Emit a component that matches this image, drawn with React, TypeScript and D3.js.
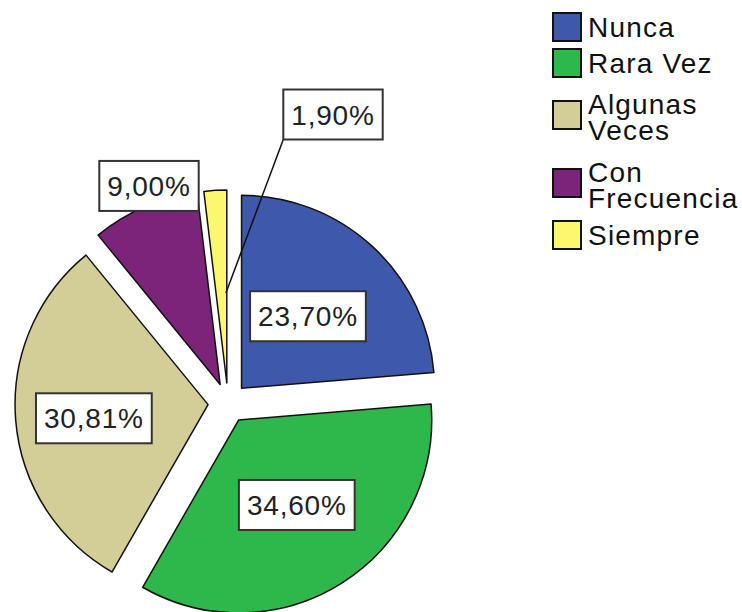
import React, { useEffect, useRef } from "react";
import * as d3 from "d3";

const categories = ["Nunca", "Rara Vez", "Algunas Veces", "Con Frecuencia", "Siempre"];
const percents = [23.7, 34.6, 30.81, 9.0, 1.9];
const colors = ["#3e58ac", "#2eb84b", "#d3ce97", "#7b2479", "#fbf76e"];

const W = 742;
const H = 612;
const cx = 228;
const cy = 403;
const R = 193;
const explode = 20;
const FONT = "'Liberation Sans', Arial, sans-serif";

// where the value boxes sit, polar around the pie centre (a in degrees, r in px)
const labelSpots: { r: number; a?: number; leader?: boolean }[] = [
  { r: 118 },
  { r: 123, a: 146 },
  { r: 135, a: 263.5 },
  { r: 231, a: 340 },
  { r: 307, a: 20, leader: true },
];

const fmt = (v: number) => d3.format(".2f")(v).replace(".", ",") + "%";

const drawChart = (el: SVGSVGElement) => {
  const svg = d3.select(el);
  svg.selectAll("*").remove();

  const pie = d3.pie<number>().sort(null).value((d) => d);
  const arcs = pie(percents);
  const arc = d3.arc<d3.PieArcDatum<number>>().innerRadius(0).outerRadius(R);
  const mid = (a: d3.PieArcDatum<number>) => (a.startAngle + a.endAngle) / 2;
  const polar = (ang: number, dist: number) => [Math.sin(ang) * dist, -Math.cos(ang) * dist];

  const g = svg.append("g").attr("transform", `translate(${cx},${cy})`);

  g.selectAll("path.slice")
    .data(arcs)
    .enter()
    .append("path")
    .attr("class", "slice")
    .attr("transform", (a) => {
      const [x, y] = polar(mid(a), explode);
      return `translate(${x},${y})`;
    })
    .attr("d", arc)
    .attr("fill", (_, i) => colors[i])
    .attr("stroke", "#111")
    .attr("stroke-width", 1.5)
    .attr("stroke-linejoin", "round");

  // value boxes
  arcs.forEach((a, i) => {
    const spot = labelSpots[i];
    const ang = spot.a != null ? (spot.a * Math.PI) / 180 : mid(a);
    const [lx, ly] = polar(ang, spot.r);
    const lg = g.append("g").attr("transform", `translate(${lx},${ly})`);
    const rect = lg.append("rect");
    const txt = lg
      .append("text")
      .attr("text-anchor", "middle")
      .attr("y", 10)
      .attr("font-family", FONT)
      .attr("font-size", 28)
      .attr("letter-spacing", 0.8)
      .attr("fill", "#222")
      .text(fmt(percents[i]));
    const w = (txt.node() as SVGTextElement).getComputedTextLength() + 16;
    const h = 50;
    rect
      .attr("x", -w / 2)
      .attr("y", -h / 2)
      .attr("width", w)
      .attr("height", h)
      .attr("fill", "#fff")
      .attr("stroke", "#333")
      .attr("stroke-width", 2);

    if (spot.leader) {
      const [ox, oy] = polar(mid(a), explode);
      const [px, py] = polar(a.endAngle - 0.01, 90);
      g.insert("line", "g")
        .attr("x1", lx - w / 2)
        .attr("y1", ly + h / 2)
        .attr("x2", ox + px)
        .attr("y2", oy + py)
        .attr("stroke", "#111")
        .attr("stroke-width", 1.5);
    }
  });

  // legend
  const legend = svg.append("g").attr("transform", "translate(553,0)");
  let top = 9;
  categories.forEach((name, i) => {
    const item = legend.append("g");
    const t = item
      .append("text")
      .attr("x", 35)
      .attr("font-family", FONT)
      .attr("font-size", 28)
      .attr("letter-spacing", 1.2)
      .attr("fill", "#111");
    t.text(name);
    let lines = [name];
    if ((t.node() as SVGTextElement).getComputedTextLength() > 150) lines = name.split(" ");
    t.text(null);
    const hgt = 36 + (lines.length - 1) * 32;
    const c = top + hgt / 2;
    const shift = lines.length > 1 ? 2 : 0;
    lines.forEach((ln, j) => {
      const lc = c + shift + (j - (lines.length - 1) / 2) * 26;
      t.append("tspan").attr("x", 35).attr("y", lc + 10).text(ln);
    });
    item
      .append("rect")
      .attr("x", 0)
      .attr("y", c - 14)
      .attr("width", 28)
      .attr("height", 28)
      .attr("fill", colors[i])
      .attr("stroke", "#111")
      .attr("stroke-width", 2);
    top += hgt;
  });
};

const App = () => {
  const ref = useRef<SVGSVGElement>(null);
  useEffect(() => {
    if (ref.current) drawChart(ref.current);
  }, []);
  return (
    <svg
      ref={ref}
      width={W}
      height={H}
      style={{ position: "absolute", left: 0, top: 0, background: "#fff" }}
    ></svg>
  );
};

export default App;
